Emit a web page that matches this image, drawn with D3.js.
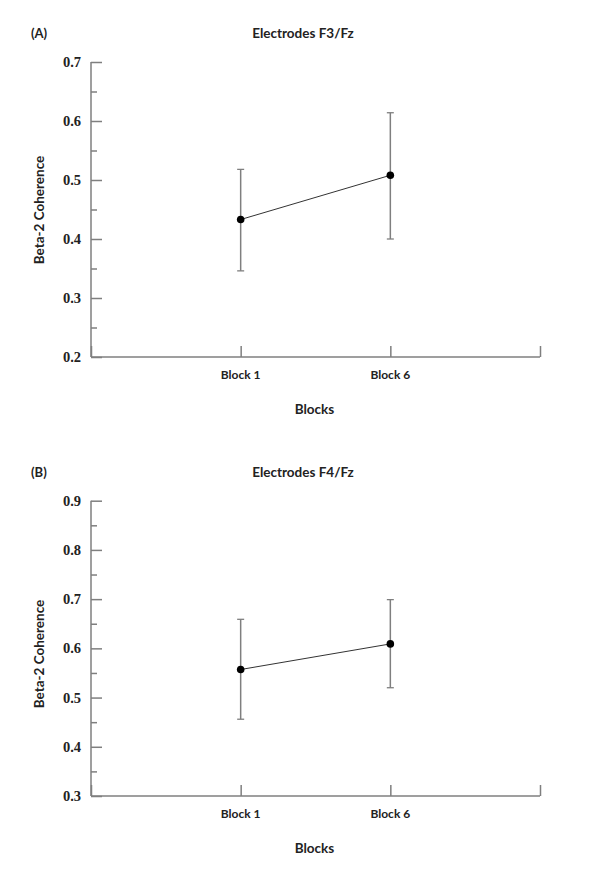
<!DOCTYPE html>
<html>
<head>
<meta charset="utf-8">
<script src="https://cdn.jsdelivr.net/npm/d3@7/dist/d3.min.js"></script>
<style>
  html, body { margin: 0; padding: 0; background: #fff; }
  svg { display: block; }
</style>
</head>
<body>
<svg id="chart" width="600" height="874"></svg>
<script>
// ---- data ----
const categories = ["Block 1", "Block 6"];
const panelLabels = ["(A)", "(B)"];
const panelTitles = ["Electrodes F3/Fz", "Electrodes F4/Fz"];
const yLabel = "Beta-2 Coherence";
const xLabel = "Blocks";

const meansA = [0.433, 0.508];
const upperA = [0.518, 0.614];
const lowerA = [0.346, 0.400];
const yTicksA = [0.2, 0.3, 0.4, 0.5, 0.6, 0.7];

const meansB = [0.557, 0.609];
const upperB = [0.659, 0.699];
const lowerB = [0.456, 0.520];
const yTicksB = [0.3, 0.4, 0.5, 0.6, 0.7, 0.8, 0.9];

const svg = d3.select("#chart");
const axisColor = "#7f7f7f";
const sansFont = "Lato, 'Open Sans', sans-serif";
const serifFont = "'Liberation Serif', 'Times New Roman', serif";

function drawPanel(cfg) {
  const g = svg.append("g");
  const left = 91, right = 540;
  const y = d3.scaleLinear()
    .domain([cfg.yTicks[0], cfg.yTicks[cfg.yTicks.length - 1]])
    .range([cfg.bottom, cfg.top]);
  // x positions: axis start, Block 1, Block 6, axis end
  const x = d3.scalePoint()
    .domain(["", ...categories, " "])
    .range([left, right]);

  // minor ticks
  const minor = d3.range(cfg.yTicks.length - 1).map(i => (cfg.yTicks[i] + cfg.yTicks[i + 1]) / 2);

  // y axis
  const yAxis = g.append("g").attr("transform", `translate(${left},0)`)
    .call(d3.axisRight(y).tickValues(cfg.yTicks).tickSize(11).tickFormat(""));
  yAxis.select(".domain").attr("d", `M0,${cfg.bottom}V${cfg.top}`);
  yAxis.selectAll("line, path").attr("stroke", axisColor).attr("stroke-width", 1.5);
  g.append("g").attr("transform", `translate(${left},0)`)
    .call(d3.axisRight(y).tickValues(minor).tickSize(6).tickFormat(""))
    .call(s => s.select(".domain").remove())
    .selectAll("line").attr("stroke", axisColor).attr("stroke-width", 1.5);

  // y tick labels
  g.selectAll(".ylab").data(cfg.yTicks).join("text")
    .attr("x", left - 10).attr("y", d => y(d)).attr("dy", "0.35em")
    .attr("text-anchor", "end")
    .attr("font-family", serifFont).attr("font-weight", "bold").attr("font-size", 14.5)
    .attr("fill", "#222").text(d => d.toFixed(1));

  // x axis
  const xAxis = g.append("g").attr("transform", `translate(0,${cfg.bottom})`)
    .call(d3.axisTop(x).tickSize(11).tickFormat(""));
  xAxis.select(".domain").attr("d", `M${left},0H${right}`);
  xAxis.selectAll("line, path").attr("stroke", axisColor).attr("stroke-width", 1.5);

  // x tick labels
  g.selectAll(".xlab").data(categories).join("text")
    .attr("x", d => x(d)).attr("y", cfg.bottom + 18).attr("dy", "0.35em")
    .attr("text-anchor", "middle")
    .attr("font-family", sansFont).attr("font-weight", "bold").attr("font-size", 12)
    .attr("fill", "#222").text(d => d);

  // axis titles
  g.append("text").attr("x", (left + right) / 2 - 1).attr("y", cfg.bottom + 52).attr("dy", "0.35em")
    .attr("text-anchor", "middle")
    .attr("font-family", sansFont).attr("font-weight", "bold").attr("font-size", 13.5)
    .attr("fill", "#222").text(xLabel);
  g.append("text")
    .attr("transform", `translate(39,${cfg.yLabelY}) rotate(-90)`)
    .attr("dy", "0.35em").attr("text-anchor", "middle")
    .attr("font-family", sansFont).attr("font-weight", "bold").attr("font-size", 13.5)
    .attr("fill", "#222").text(yLabel);

  // panel label & title
  g.append("text").attr("x", 31).attr("y", cfg.titleY).attr("dy", "0.35em")
    .attr("font-family", sansFont).attr("font-weight", "bold").attr("font-size", 13)
    .attr("fill", "#222").text(cfg.panel);
  g.append("text").attr("x", 303).attr("y", cfg.titleY).attr("dy", "0.35em")
    .attr("text-anchor", "middle")
    .attr("font-family", sansFont).attr("font-weight", "bold").attr("font-size", 13.5)
    .attr("fill", "#222").text(cfg.title);

  const pts = categories.map((c, i) => ({ c, m: cfg.means[i], u: cfg.upper[i], l: cfg.lower[i] }));

  // error bars
  const eb = g.selectAll(".eb").data(pts).join("g");
  eb.append("line").attr("x1", d => x(d.c)).attr("x2", d => x(d.c))
    .attr("y1", d => y(d.u)).attr("y2", d => y(d.l))
    .attr("stroke", axisColor).attr("stroke-width", 1.5);
  eb.append("line").attr("x1", d => x(d.c) - 3.5).attr("x2", d => x(d.c) + 3.5)
    .attr("y1", d => y(d.u)).attr("y2", d => y(d.u))
    .attr("stroke", axisColor).attr("stroke-width", 1.3);
  eb.append("line").attr("x1", d => x(d.c) - 3.5).attr("x2", d => x(d.c) + 3.5)
    .attr("y1", d => y(d.l)).attr("y2", d => y(d.l))
    .attr("stroke", axisColor).attr("stroke-width", 1.3);

  // connecting line
  g.append("path").datum(pts)
    .attr("d", d3.line().x(d => x(d.c)).y(d => y(d.m)))
    .attr("fill", "none").attr("stroke", "#333").attr("stroke-width", 1);

  // points
  g.selectAll(".pt").data(pts).join("circle")
    .attr("cx", d => x(d.c)).attr("cy", d => y(d.m)).attr("r", 3.8)
    .attr("fill", "#000");
}

drawPanel({
  panel: panelLabels[0], title: panelTitles[0], titleY: 33,
  means: meansA, upper: upperA, lower: lowerA, yTicks: yTicksA,
  top: 62, bottom: 357, yLabelY: 210
});
drawPanel({
  panel: panelLabels[1], title: panelTitles[1], titleY: 472,
  means: meansB, upper: upperB, lower: lowerB, yTicks: yTicksB,
  top: 500.7, bottom: 796, yLabelY: 654
});
</script>
</body>
</html>
